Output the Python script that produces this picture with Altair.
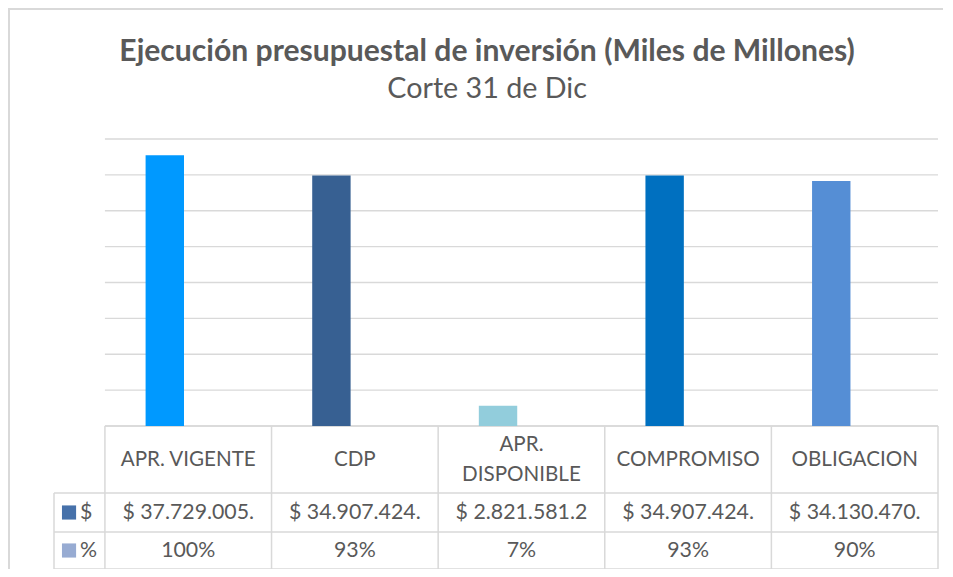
import altair as alt
import pandas as pd

# ---------------- data ----------------
categories = ["APR. VIGENTE", "CDP", "APR. DISPONIBLE", "COMPROMISO", "OBLIGACION"]
header_lines = [["APR. VIGENTE"], ["CDP"], ["APR.", "DISPONIBLE"], ["COMPROMISO"], ["OBLIGACION"]]
values_mm = [37.729005, 34.907424, 2.8215812, 34.907424, 34.130470]
value_labels = ["$ 37.729.005.", "$ 34.907.424.", "$ 2.821.581.2", "$ 34.907.424.", "$ 34.130.470."]
pct_labels = ["100%", "93%", "7%", "93%", "90%"]
bar_colors = ["#0099FF", "#376092", "#92CDDC", "#0070C0", "#558ED5"]
row_names = ["$", "%"]
row_key_colors = ["#4671AA", "#97ABD2"]
y_ticks = [0, 5, 10, 15, 20, 25, 30, 35, 40]

# ---------------- layout ----------------
PAD_L, PAD_T = 41, 131
LEFT_COL_PX = 51.5
W = 894
TABLE_PX = W - LEFT_COL_PX
BAR_PX = 287
HEAD_PX, VAL_PX, PCT_PX = 67, 39, 37
H = BAR_PX + HEAD_PX + VAL_PX + PCT_PX
Y_MAX = 40
u = Y_MAX / BAR_PX
Y_MIN = -(H - BAR_PX) * u
N = len(categories)
CAT_PX = TABLE_PX / N
X_LEFT = -LEFT_COL_PX / CAT_PX
CLUSTER_SHIFT = 23.7 / CAT_PX
ROW1 = -HEAD_PX * u
ROW2 = -(HEAD_PX + VAL_PX) * u
HEAD_Y = -(HEAD_PX / 2) * u
LINE_PX = 30
VAL_Y = -(HEAD_PX + VAL_PX / 2) * u
PCT_Y = -(HEAD_PX + VAL_PX + PCT_PX / 2) * u
FONT = "Lato"
TXT = "#595959"
GRID = "#D9D9D9"

xs = alt.Scale(domain=[X_LEFT, N], nice=False, zero=False)
ys = alt.Scale(domain=[Y_MIN, Y_MAX], nice=False, zero=False)

cats = pd.DataFrame({
    "cat": categories,
    "xc": [i + 0.5 for i in range(N)],
    "xb": [i + 0.5 - CLUSTER_SHIFT for i in range(N)],
    "v": values_mm,
    "zero": [0] * N,
    "color": bar_colors,
    "val": value_labels,
    "pct": pct_labels,
    "vy": [VAL_Y] * N,
    "py": [PCT_Y] * N,
})

head_rows = []
for i, lines in enumerate(header_lines):
    n = len(lines)
    for j, t in enumerate(lines):
        off_px = (j - (n - 1) / 2) * LINE_PX
        head_rows.append({"xc": i + 0.5, "y": HEAD_Y - off_px * u, "t": t})
head_df = pd.DataFrame(head_rows)

grid_df = pd.DataFrame({"y": y_ticks, "x0": 0, "x1": N})
grid = alt.Chart(grid_df).mark_rule(color=GRID, strokeWidth=1.3).encode(
    x=alt.X("x0:Q", scale=xs, axis=None), x2="x1", y=alt.Y("y:Q", scale=ys, axis=None))

bars = alt.Chart(cats).mark_bar(size=38.4).encode(
    x=alt.X("xb:Q", scale=xs, axis=None),
    y=alt.Y("v:Q", scale=ys, axis=None), y2="zero",
    color=alt.Color("color:N", scale=None))

h_df = pd.DataFrame({"y": [0, ROW1, ROW2, Y_MIN], "x0": [0, X_LEFT, X_LEFT, X_LEFT], "x1": [N] * 4})
hlines = alt.Chart(h_df).mark_rule(color=GRID, strokeWidth=1.5).encode(
    x=alt.X("x0:Q", scale=xs, axis=None), x2="x1", y=alt.Y("y:Q", scale=ys, axis=None))

v_df = pd.DataFrame({"x": [X_LEFT] + list(range(N + 1)), "y0": [ROW1] + [0] * (N + 1), "y1": [Y_MIN] * (N + 2)})
vlines = alt.Chart(v_df).mark_rule(color=GRID, strokeWidth=1.5).encode(
    x=alt.X("x:Q", scale=xs, axis=None), y=alt.Y("y0:Q", scale=ys, axis=None), y2="y1")

head_txt = alt.Chart(head_df).mark_text(font=FONT, fontSize=20.6, color=TXT, baseline="middle",
                                        align="center").encode(
    x=alt.X("xc:Q", scale=xs, axis=None), y=alt.Y("y:Q", scale=ys, axis=None), text="t:N")

def txt(field, yfield):
    return alt.Chart(cats).mark_text(font=FONT, fontSize=21.3, color=TXT, baseline="middle",
                                     align="center").encode(
        x=alt.X("xc:Q", scale=xs, axis=None), y=alt.Y(f"{yfield}:Q", scale=ys, axis=None),
        text=f"{field}:N")

keys_df = pd.DataFrame({"name": row_names, "color": row_key_colors, "y": [VAL_Y, PCT_Y],
                        "kx": [X_LEFT + 15.2 / CAT_PX] * 2, "tx": [X_LEFT + 26.3 / CAT_PX] * 2})
keys = alt.Chart(keys_df).mark_square(size=200, opacity=1, filled=True).encode(
    x=alt.X("kx:Q", scale=xs, axis=None), y=alt.Y("y:Q", scale=ys, axis=None),
    color=alt.Color("color:N", scale=None))
key_txt = alt.Chart(keys_df).mark_text(font=FONT, fontSize=21.3, color=TXT, align="left",
                                       baseline="middle").encode(
    x=alt.X("tx:Q", scale=xs, axis=None), y=alt.Y("y:Q", scale=ys, axis=None), text="name:N")

one = pd.DataFrame({"a": [0]})
frame_l = alt.Chart(one).mark_rule(color=GRID, strokeWidth=2).encode(
    x=alt.value(-PAD_L + 1), y=alt.value(-PAD_T + 1), y2=alt.value(H))
frame_t = alt.Chart(one).mark_rule(color=GRID, strokeWidth=2).encode(
    x=alt.value(-PAD_L), x2=alt.value(W), y=alt.value(-PAD_T + 1))

chart = alt.layer(
    frame_l, frame_t, grid, hlines, vlines, bars,
    head_txt, txt("val", "vy"), txt("pct", "py"), keys, key_txt
).properties(
    width=W, height=H,
    title=alt.Title(
        text="Ejecución presupuestal de inversión (Miles de Millones)",
        subtitle="Corte 31 de Dic",
        anchor="middle", frame="group", offset=0, dx=-8.9, dy=95.5,
        font=FONT, fontSize=30.1, fontWeight="bold", color=TXT,
        subtitleFont=FONT, subtitleFontSize=28.7, subtitleColor=TXT, subtitlePadding=8),
    autosize=alt.AutoSizeParams(type="none"),
    padding={"left": PAD_L, "top": PAD_T, "right": 0, "bottom": 0},
).configure_view(stroke=None)

chart.save("out.html", embed_options={"renderer": "svg", "actions": False})
